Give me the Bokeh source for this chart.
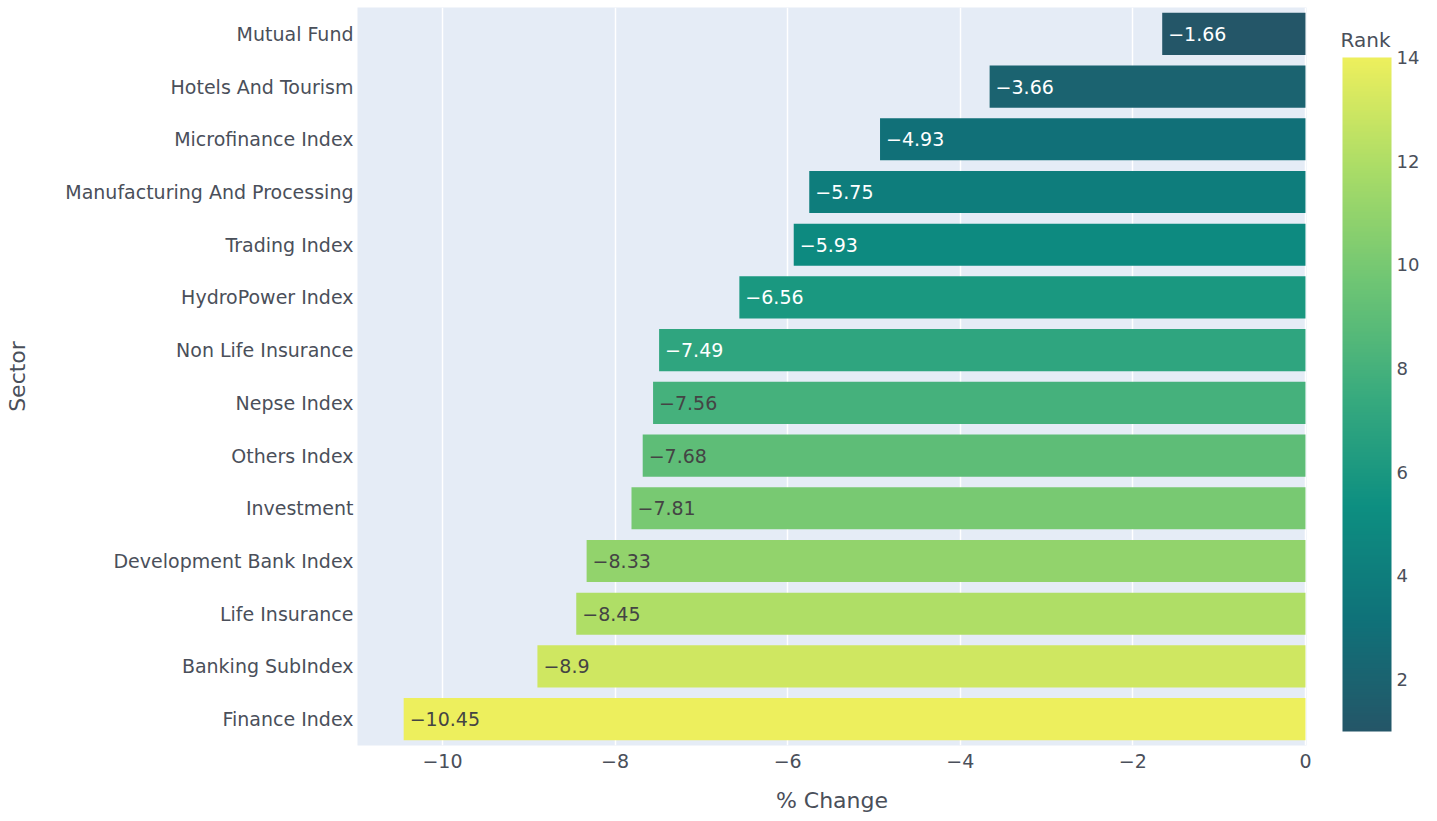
from bokeh.plotting import figure
from bokeh.models import (ColumnDataSource, FactorRange, Range1d, LinearColorMapper,
                          ColorBar, FixedTicker, LabelSet, Label)
from bokeh.layouts import row
from bokeh.core.properties import value
from bokeh.transform import transform
from bokeh.embed import file_html
from bokeh.resources import INLINE
import numpy as np

sectors = ["Mutual Fund", "Hotels And Tourism", "Microfinance Index",
           "Manufacturing And Processing", "Trading Index", "HydroPower Index",
           "Non Life Insurance", "Nepse Index", "Others Index", "Investment",
           "Development Bank Index", "Life Insurance", "Banking SubIndex", "Finance Index"]
pct_change = [-1.66, -3.66, -4.93, -5.75, -5.93, -6.56, -7.49, -7.56, -7.68, -7.81,
              -8.33, -8.45, -8.9, -10.45]
rank = [1, 2, 3, 4, 5, 6, 7, 8, 9, 10, 11, 12, 13, 14]
x_ticks = [-10, -8, -6, -4, -2, 0]
cbar_ticks = [2, 4, 6, 8, 10, 12, 14]

# Aggrnyl colorscale, interpolated
anchors = ["#245668", "#0f7279", "#0d8f81", "#39ab7e", "#6ec574", "#a9dc67", "#edef5d"]
def hex2rgb(h):
    return np.array([int(h[i:i+2], 16) for i in (1, 3, 5)], dtype=float)
pts = np.array([hex2rgb(c) for c in anchors])
pos = np.linspace(0, 1, len(anchors))
palette = []
for t in np.linspace(0, 1, 256):
    r, g, b = (np.interp(t, pos, pts[:, k]) for k in range(3))
    palette.append("#%02x%02x%02x" % (int(round(r)), int(round(g)), int(round(b))))

mapper = LinearColorMapper(palette=palette, low=1, high=14)

labels = [("%g" % v).replace("-", "\u2212") for v in pct_change]
text_colors = ["#ffffff" if r <= 7 else "#444444" for r in rank]

src = ColumnDataSource(dict(sector=sectors, val=pct_change, rank=rank,
                            label=labels, tcol=text_colors))

FONT = "DejaVu Sans"
TXT = "#4a4f5a"

p = figure(y_range=FactorRange(*reversed(sectors)), x_range=Range1d(-10.985, 0.012),
           frame_width=949, frame_height=738, output_backend="svg", toolbar_location=None,
           min_border_left=357, min_border_top=7, min_border_bottom=0, min_border_right=10,
           background_fill_color="white", border_fill_color="white")
p.background_fill_color = "#e5ecf6"
p.outline_line_color = None

p.hbar(y="sector", right="val", left=0, height=0.8, source=src,
       fill_color=transform("rank", mapper), line_color=None)

lbl = LabelSet(x="val", y="sector", text="label", source=src, x_offset=6,
               text_align="left", text_baseline="middle", text_font_size="19px",
               text_color="tcol", text_font=value(FONT))
p.add_layout(lbl)

p.xaxis.ticker = FixedTicker(ticks=x_ticks)
p.xaxis.major_label_overrides = {t: ("%d" % t).replace("-", "\u2212") for t in x_ticks}
p.xgrid.ticker = FixedTicker(ticks=x_ticks)
p.xgrid.grid_line_color = "white"
p.xgrid.grid_line_width = 1.5
p.ygrid.grid_line_color = None

for ax in (p.xaxis, p.yaxis):
    ax.axis_line_color = None
    ax.major_tick_line_color = None
    ax.minor_tick_line_color = None
    ax.major_label_text_font = FONT
    ax.major_label_text_color = TXT
    ax.major_label_text_font_size = "19px"
    ax.axis_label_text_font = FONT
    ax.axis_label_text_color = TXT
    ax.axis_label_text_font_size = "22px"
    ax.axis_label_text_font_style = "normal"

p.xaxis.axis_label = "% Change"
p.xaxis.major_label_standoff = 2
p.xaxis.axis_label_standoff = 17
p.yaxis.axis_label = "Sector"
p.yaxis.major_label_standoff = -2
p.yaxis.axis_label_standoff = 32

# side panel holding the colour bar and its title
SIDE_W = 1437 - 1316
side = figure(width=SIDE_W, height=821, x_range=Range1d(0, SIDE_W), y_range=Range1d(0, 821),
              output_backend="svg", toolbar_location=None, x_axis_location=None,
              y_axis_location=None, min_border=0,
              background_fill_color="white", border_fill_color="white")
side.outline_line_color = None
side.grid.visible = False

cb = ColorBar(color_mapper=mapper, width=49, height=674,
              ticker=FixedTicker(ticks=cbar_ticks),
              major_label_text_font=FONT, major_label_text_font_size="18px",
              major_label_text_color=TXT, major_tick_line_color=None,
              bar_line_color=None, border_line_color=None, background_fill_color=None,
              padding=0, label_standoff=5, location=(26, 20))
side.add_layout(cb, "center")

cb_title = Label(x=24, y=821 - 36, text="Rank",
                 text_font=FONT, text_font_size="20px", text_color=TXT,
                 text_align="left", text_baseline="middle")
side.add_layout(cb_title)

layout = row(p, side)
open("out.html", "w").write(file_html(layout, INLINE))
